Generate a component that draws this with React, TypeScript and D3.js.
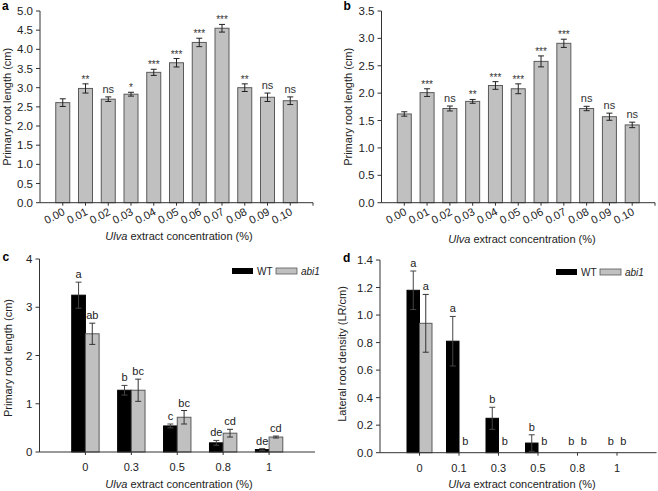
import React from 'react';
import * as d3 from 'd3';

const concAB = ["0.00", "0.01", "0.02", "0.03", "0.04", "0.05", "0.06", "0.07", "0.08", "0.09", "0.10"];
const lenA = [2.61, 2.98, 2.70, 2.83, 3.40, 3.65, 4.18, 4.55, 3.00, 2.75, 2.66];
const errA = [0.10, 0.12, 0.06, 0.05, 0.08, 0.11, 0.11, 0.10, 0.10, 0.11, 0.10];
const sigA = ["", "**", "ns", "*", "***", "***", "***", "***", "**", "ns", "ns"];
const ticksA = [0, 0.5, 1, 1.5, 2, 2.5, 3, 3.5, 4, 4.5, 5];

const lenB = [1.62, 2.01, 1.72, 1.85, 2.14, 2.08, 2.58, 2.91, 1.72, 1.57, 1.42];
const errB = [0.04, 0.07, 0.045, 0.035, 0.07, 0.09, 0.10, 0.075, 0.04, 0.065, 0.05];
const sigB = ["", "***", "ns", "**", "***", "***", "***", "***", "ns", "ns", "ns"];
const ticksB = [0, 0.5, 1, 1.5, 2, 2.5, 3, 3.5];

const concC = ["0", "0.3", "0.5", "0.8", "1"];
const wtC = [3.25, 1.28, 0.54, 0.19, 0.05];
const wtErrC = [0.27, 0.10, 0.04, 0.05, 0.02];
const abiC = [2.45, 1.28, 0.72, 0.39, 0.31];
const abiErrC = [0.22, 0.23, 0.14, 0.08, 0.02];
const wtLetC = ["a", "b", "c", "de", "de"];
const abiLetC = ["ab", "bc", "bc", "cd", "cd"];
const ticksC = [0, 1, 2, 3, 4];

const concD = ["0", "0.1", "0.3", "0.5", "0.8", "1"];
const wtD = [1.18, 0.81, 0.25, 0.07, 0, 0];
const wtErrD = [0.14, 0.18, 0.08, 0.06, 0, 0];
const abiD = [0.94, 0, 0, 0, 0, 0];
const abiErrD = [0.21, 0, 0, 0, 0, 0];
const wtLetD = ["a", "a", "b", "b", "b", "b"];
const abiLetD = ["a", "b", "b", "b", "b", "b"];
const ticksD = [0, 0.2, 0.4, 0.6, 0.8, 1.0, 1.2, 1.4];

const FONT = "'Liberation Sans', Arial, sans-serif";
const GRAY = "#c0c0c0";
const EDGE = "#5a5a5a";
const AXIS = "#333";

function YAxis({ y, x0, ticks, fmt }: any) {
  const [r0, r1] = y.range();
  return (
    <g>
      <line x1={x0} x2={x0} y1={r0} y2={r1} stroke={AXIS} strokeWidth={1} />
      {ticks.map((t: number) => (
        <g key={t}>
          <line x1={x0 - 4} x2={x0} y1={y(t)} y2={y(t)} stroke={AXIS} />
          <text x={x0 - 7} y={y(t) + 4} textAnchor="end" fontSize={11.5} fill="#222">{fmt(t)}</text>
        </g>
      ))}
    </g>
  );
}

function ErrBar({ x, y0, y1, c = "#222" }: any) {
  return (
    <g stroke={c} strokeWidth={1}>
      <line x1={x} x2={x} y1={y0} y2={y1} />
      <line x1={x - 3} x2={x + 3} y1={y0} y2={y0} />
      <line x1={x - 3} x2={x + 3} y1={y1} y2={y1} />
    </g>
  );
}

function SinglePanel({ letter, xL, xR, yT, yB, max, ticks, vals, errs, sigs, ylabX, titleY, titleX }: any) {
  const x = d3.scalePoint<string>().domain(concAB).range([xL, xR]).padding(1);
  const y = d3.scaleLinear().domain([0, max]).range([yB, yT]);
  const bw = 14;
  return (
    <g fontFamily={FONT}>
      <text x={xL - 38} y={yT - 1} fontWeight="bold" fontSize={12}>{letter}</text>
      {concAB.map((c, i) => {
        const cx = x(c)!;
        const top = y(vals[i]);
        const et = y(vals[i] + errs[i]);
        const eb = y(vals[i] - errs[i]);
        const star = sigs[i].startsWith("*");
        return (
          <g key={c}>
            <rect x={cx - bw / 2} y={top} width={bw} height={yB - top} fill={GRAY} stroke={EDGE} strokeWidth={1} />
            <ErrBar x={cx} y0={et} y1={eb} />
            <text x={cx} y={star ? et - 1 : et - 4} textAnchor="middle" fontSize={star ? 10 : 11} fill="#333">{sigs[i]}</text>
            <line x1={cx} x2={cx} y1={yB} y2={yB + 3} stroke={AXIS} />
            <text transform={`translate(${cx + 3},${yB + 11.5}) rotate(-28)`} textAnchor="end" fontSize={11} fill="#222">{c}</text>
          </g>
        );
      })}
      <line x1={xL} x2={xR} y1={yB} y2={yB} stroke={AXIS} />
      <line x1={xR} x2={xR} y1={yB} y2={yB + 3} stroke={AXIS} />
      <YAxis y={y} x0={xL} ticks={ticks} fmt={d3.format(".1f")} />
      <text transform={`translate(${ylabX},${(yT + yB) / 2}) rotate(-90)`} textAnchor="middle" fontSize={11} fill="#222">Primary root length (cm)</text>
      <text x={titleX} y={titleY} textAnchor="middle" fontSize={11} fill="#222"><tspan fontStyle="italic">Ulva</tspan> extract concentration (%)</text>
    </g>
  );
}

function GroupPanel({ letter, cats, xL, xR, yT, yB, max, ticks, fmt, wt, wtE, abi, abiE, wtL, abiL, bw, ylab, ylabX, ylabY, titleX, titleY, legX }: any) {
  const x = d3.scalePoint<string>().domain(cats).range([xL, xR]).padding(1);
  const y = d3.scaleLinear().domain([0, max]).range([yB, yT]);
  const legY = yT + 12;
  return (
    <g fontFamily={FONT}>
      <text x={xL - 37} y={yT + 2} fontWeight="bold" fontSize={12}>{letter}</text>
      {cats.map((c: string, i: number) => {
        const cx = x(c)!;
        const items = [
          { v: wt[i], e: wtE[i], l: wtL[i], fill: "#000", xc: cx - bw / 2 },
          { v: abi[i], e: abiE[i], l: abiL[i], fill: GRAY, xc: cx + bw / 2 },
        ];
        return (
          <g key={c}>
            {items.map((it, k) => {
              const top = y(it.v);
              const et = y(it.v + it.e);
              const eb = y(it.v - it.e);
              return (
                <g key={k}>
                  {it.v > 0 && (
                    <rect x={it.xc - bw / 2} y={top} width={bw} height={yB - top} fill={it.fill} stroke={k === 0 ? "#000" : EDGE} strokeWidth={1} />
                  )}
                  {it.v > 0 && <ErrBar x={it.xc} y0={et} y1={eb} c={k === 0 ? "#444" : "#333"} />}
                  <text x={it.xc} y={it.v > 0 ? et - 4 : yB - 8} textAnchor="middle" fontSize={11} fill="#222">{it.l}</text>
                </g>
              );
            })}
            <line x1={cx} x2={cx} y1={yB} y2={yB + 3} stroke={AXIS} />
            <text x={cx} y={yB + 19} textAnchor="middle" fontSize={11} fill="#222">{c}</text>
          </g>
        );
      })}
      <line x1={xL} x2={xR} y1={yB} y2={yB} stroke={AXIS} />
      <YAxis y={y} x0={xL} ticks={ticks} fmt={fmt} />
      <text transform={`translate(${ylabX},${ylabY}) rotate(-90)`} textAnchor="middle" fontSize={11} fill="#222">{ylab}</text>
      <text x={titleX} y={titleY} textAnchor="middle" fontSize={11} fill="#222"><tspan fontStyle="italic">Ulva</tspan> extract concentration (%)</text>
      <g fontSize={10} fill="#222">
        <rect x={legX} y={legY - 3} width={21} height={6} fill="#000" />
        <text x={legX + 25} y={legY + 3.5}>WT</text>
        <rect x={legX + 44} y={legY - 3} width={21} height={6} fill={GRAY} stroke={EDGE} strokeWidth={0.8} />
        <text x={legX + 69} y={legY + 3.5} fontStyle="italic">abi1</text>
      </g>
    </g>
  );
}

export default function App() {
  return (
    <svg width={658} height={491} style={{ position: 'absolute', left: 0, top: 0, background: '#fff' }}>
      <rect width={658} height={491} fill="#fff" />
      <SinglePanel letter="a" xL={40} xR={313} yT={11} yB={202.7} max={5} ticks={ticksA} vals={lenA} errs={errA} sigs={sigA} ylabX={11} titleX={179} titleY={240} />
      <SinglePanel letter="b" xL={381.5} xR={655} yT={11} yB={202.7} max={3.5} ticks={ticksB} vals={lenB} errs={errB} sigs={sigB} ylabX={352} titleX={522} titleY={243} />
      <GroupPanel letter="c" cats={concC} xL={39.5} xR={315} yT={259} yB={452} max={4} ticks={ticksC} fmt={d3.format("d")}
        wt={wtC} wtE={wtErrC} abi={abiC} abiE={abiErrC} wtL={wtLetC} abiL={abiLetC} bw={13.7}
        ylab="Primary root length (cm)" ylabX={11.5} ylabY={358} titleX={179} titleY={488} legX={232} />
      <GroupPanel letter="d" cats={concD} xL={380} xR={656.5} yT={260} yB={452.7} max={1.4} ticks={ticksD} fmt={d3.format(".1f")}
        wt={wtD} wtE={wtErrD} abi={abiD} abiE={abiErrD} wtL={wtLetD} abiL={abiLetD} bw={12.5}
        ylab="Lateral root density (LR/cm)" ylabX={346} ylabY={354} titleX={522} titleY={488} legX={556} />
    </svg>
  );
}
